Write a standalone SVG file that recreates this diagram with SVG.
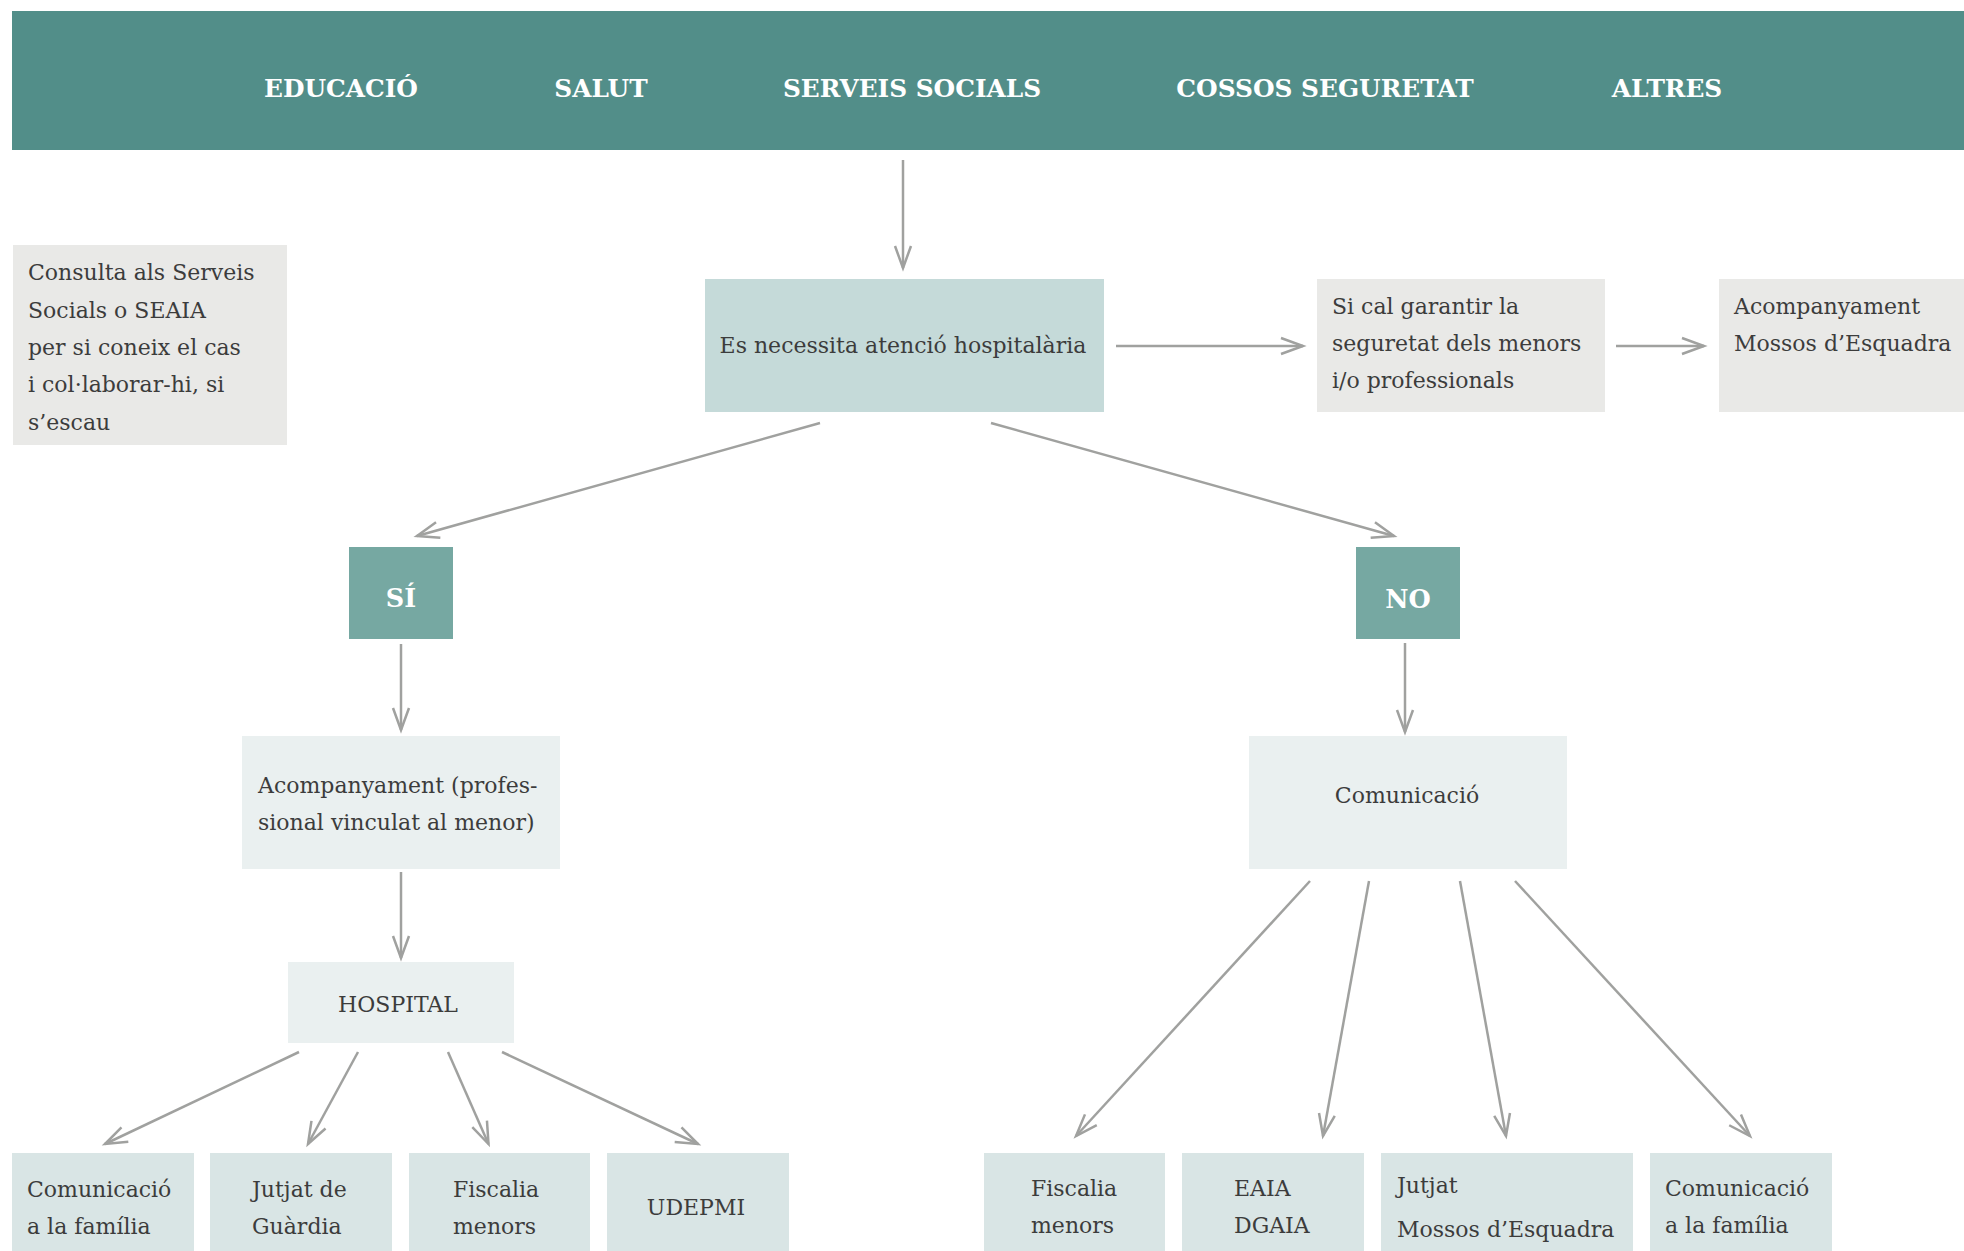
<svg xmlns="http://www.w3.org/2000/svg" width="1964" height="1251" viewBox="0 0 1964 1251">
<style>
.hdr{font-family:"DejaVu Serif",serif;font-weight:bold;font-size:24.8px;fill:#ffffff;text-anchor:middle}
.yn{font-family:"DejaVu Serif",serif;font-weight:bold;font-size:25.5px;fill:#ffffff;text-anchor:middle}
.t{font-family:"DejaVu Serif",serif;font-size:22px;fill:#3c3c3c}
.c{text-anchor:middle}
.grey{fill:#e9e9e7}
.mid{fill:#c5dad9}
.light{fill:#eaf0f0}
.leaf{fill:#d9e5e5}
.dec{fill:#76a8a2}
.conn line{stroke:#a0a19f;stroke-width:2.5;fill:none;marker-end:url(#ah)}
</style>
<defs>
<marker id="ah" markerUnits="userSpaceOnUse" markerWidth="30" markerHeight="20" refX="0" refY="0" orient="auto" overflow="visible">
<path d="M-22,-8 L0,0 L-22,8" fill="none" stroke="#a0a19f" stroke-width="2.5"/>
</marker>
</defs>
<rect width="1964" height="1251" fill="#ffffff"/>
<g id="header">
<rect x="12" y="11" width="1952" height="139" fill="#528e89"/>
<text class="hdr" x="341" y="97">EDUCACIÓ</text>
<text class="hdr" x="601" y="97">SALUT</text>
<text class="hdr" x="912" y="97">SERVEIS SOCIALS</text>
<text class="hdr" x="1325" y="97">COSSOS SEGURETAT</text>
<text class="hdr" x="1667" y="97">ALTRES</text>
</g>
<g id="consulta">
<rect class="grey" x="13" y="245" width="274" height="200"/>
<text class="t" x="28" y="280">Consulta als Serveis</text>
<text class="t" x="28" y="317.5">Socials o SEAIA</text>
<text class="t" x="28" y="355">per si coneix el cas</text>
<text class="t" x="28" y="392">i col·laborar-hi, si</text>
<text class="t" x="28" y="429.5">s’escau</text>
</g>
<g id="atencio">
<rect class="mid" x="705" y="279" width="399" height="133"/>
<text class="t c" x="903" y="353">Es necessita atenció hospitalària</text>
</g>
<g id="seguretat">
<rect class="grey" x="1317" y="279" width="288" height="133"/>
<text class="t" x="1332" y="313.5">Si cal garantir la</text>
<text class="t" x="1332" y="351">seguretat dels menors</text>
<text class="t" x="1332" y="388">i/o professionals</text>
</g>
<g id="mossos">
<rect class="grey" x="1719" y="279" width="245" height="133"/>
<text class="t" x="1734" y="314">Acompanyament</text>
<text class="t" x="1734" y="351">Mossos d’Esquadra</text>
</g>
<g id="si">
<rect class="dec" x="349" y="547" width="104" height="92"/>
<text class="yn" x="401" y="607">SÍ</text>
</g>
<g id="no">
<rect class="dec" x="1356" y="547" width="104" height="92"/>
<text class="yn" x="1408" y="608">NO</text>
</g>
<g id="acompanyament">
<rect class="light" x="242" y="736" width="318" height="133"/>
<text class="t" x="258" y="793">Acompanyament (profes-</text>
<text class="t" x="258" y="830">sional vinculat al menor)</text>
</g>
<g id="comunicacio">
<rect class="light" x="1249" y="736" width="318" height="133"/>
<text class="t c" x="1407" y="803">Comunicació</text>
</g>
<g id="hospital">
<rect class="light" x="288" y="962" width="226" height="81"/>
<text class="t c" x="398" y="1012">HOSPITAL</text>
</g>
<g id="l-familia">
<rect class="leaf" x="12" y="1153" width="182" height="98"/>
<text class="t" x="27" y="1197">Comunicació</text>
<text class="t" x="27" y="1233.5">a la família</text>
</g>
<g id="l-jutjat">
<rect class="leaf" x="210" y="1153" width="182" height="98"/>
<text class="t" x="252" y="1197">Jutjat de</text>
<text class="t" x="252" y="1233.5">Guàrdia</text>
</g>
<g id="l-fiscalia">
<rect class="leaf" x="409" y="1153" width="181" height="98"/>
<text class="t" x="453" y="1197">Fiscalia</text>
<text class="t" x="453" y="1233.5">menors</text>
</g>
<g id="l-udepmi">
<rect class="leaf" x="607" y="1153" width="182" height="98"/>
<text class="t c" x="696" y="1215">UDEPMI</text>
</g>
<g id="r-fiscalia">
<rect class="leaf" x="984" y="1153" width="181" height="98"/>
<text class="t" x="1031" y="1196">Fiscalia</text>
<text class="t" x="1031" y="1233">menors</text>
</g>
<g id="r-eaia">
<rect class="leaf" x="1182" y="1153" width="182" height="98"/>
<text class="t" x="1234" y="1196">EAIA</text>
<text class="t" x="1234" y="1233">DGAIA</text>
</g>
<g id="r-jutjat">
<rect class="leaf" x="1381" y="1153" width="252" height="98"/>
<text class="t" x="1397" y="1193">Jutjat</text>
<text class="t" x="1397" y="1237">Mossos d’Esquadra</text>
</g>
<g id="r-familia">
<rect class="leaf" x="1650" y="1153" width="182" height="98"/>
<text class="t" x="1665" y="1196">Comunicació</text>
<text class="t" x="1665" y="1233">a la família</text>
</g>
<g id="connectors" class="conn">
<line x1="903" y1="160" x2="903" y2="268"/>
<line x1="1116" y1="346" x2="1303" y2="346"/>
<line x1="1616" y1="346" x2="1704" y2="346"/>
<line x1="820" y1="423" x2="417" y2="536"/>
<line x1="991" y1="423" x2="1394" y2="536"/>
<line x1="401" y1="644" x2="401" y2="730"/>
<line x1="1405" y1="643" x2="1405" y2="732"/>
<line x1="401" y1="872" x2="401" y2="958"/>
<line x1="299" y1="1052" x2="105" y2="1144"/>
<line x1="358" y1="1052" x2="308" y2="1144"/>
<line x1="448" y1="1052" x2="488.5" y2="1144"/>
<line x1="502" y1="1052" x2="698" y2="1144"/>
<line x1="1310" y1="881" x2="1076" y2="1136"/>
<line x1="1369" y1="881" x2="1323" y2="1136"/>
<line x1="1460" y1="881" x2="1506" y2="1136"/>
<line x1="1515" y1="881" x2="1750" y2="1136"/>
</g>
</svg>
